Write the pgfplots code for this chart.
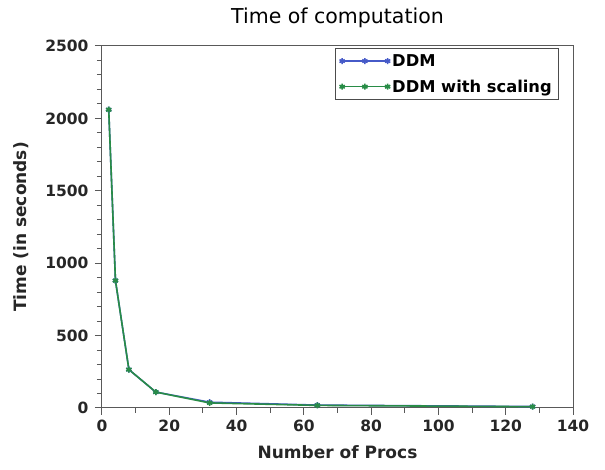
\documentclass[border=0pt]{standalone}
\usepackage{pgfplots}
\pgfplotsset{compat=1.18}
\usepackage{fontspec}
\setmainfont{DejaVu Sans}
\definecolor{ddmblue}{RGB}{70,90,200}
\definecolor{ddmgreen}{RGB}{40,140,70}
\begin{document}
\begin{tikzpicture}
\begin{axis}[
    name=ax,
    width=471pt, height=362pt,
    scale only axis,
    xmin=0, xmax=140, ymin=0, ymax=2500,
    xtick={0,20,...,140}, ytick={0,500,...,2500},
    minor x tick num=1, minor y tick num=4,
    tick align=outside,
    xtick pos=bottom, ytick pos=left,
    major tick length=7pt, minor tick length=5pt,
    tick style={black!65, line width=1pt},
    axis line style={black!65, line width=1pt},
    /pgf/number format/assume math mode=true,
    /pgf/number format/1000 sep={},
    ticklabel style={font=\bfseries\fontsize{15.5}{18}\selectfont, text=black!85},
    yticklabel style={xshift=-3pt},
    xticklabel style={yshift=-1pt},
    title={Time of computation},
    title style={font=\fontsize{20.5}{24}\selectfont, at={(axis description cs:0.5,1.062)}, anchor=center},
    xlabel={\textbf{Number of Procs}},
    ylabel={\textbf{Time (in seconds)}},
    xlabel style={at={(axis description cs:0.5,-0.122)}, anchor=center},
    ylabel style={at={(axis description cs:-0.172,0.5)}, anchor=center},
    label style={font=\fontsize{17}{20}\selectfont, text=black!85},
    legend style={at={(0.968,0.994)}, anchor=north east, draw=black!70,
        font=\bfseries\fontsize{16.3}{19}\selectfont, row sep=8pt, inner sep=4pt,
        /tikz/every even column/.append style={column sep=3pt}},
    legend cell align=left,
    legend image code/.code={
        \draw[#1, mark repeat=1] plot coordinates {(0cm,0cm) (0.8cm,0cm) (1.6cm,0cm)};
    },
    every axis plot/.append style={line width=1.6pt, mark=asterisk, mark size=3pt},
]
\addplot[color=ddmblue] coordinates {(2,2060) (4,880) (8,265) (16,110) (32,40) (64,20) (128,10)};
\addlegendentry{DDM}
\addplot[color=ddmgreen] coordinates {(2,2060) (4,880) (8,265) (16,110) (32,35) (64,18) (128,9)};
\addlegendentry{DDM with scaling}
\end{axis}
\path ([xshift=32pt]ax.south east);
\path ([xshift=-102pt,yshift=46pt]ax.north west);
\path ([yshift=-62pt]ax.south west);
\end{tikzpicture}
\end{document}
